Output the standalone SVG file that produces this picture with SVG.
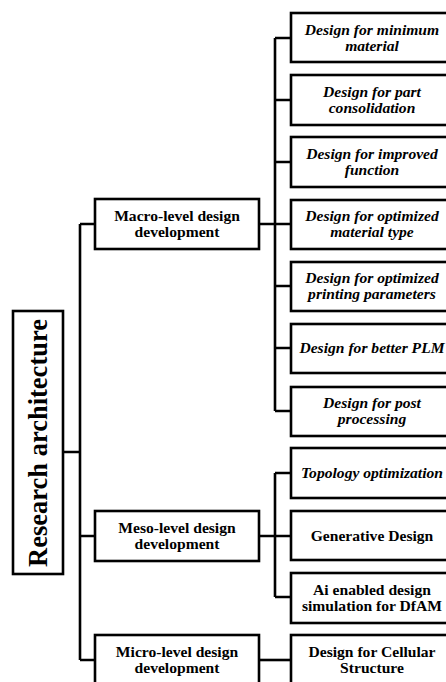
<svg xmlns="http://www.w3.org/2000/svg" width="446" height="682" viewBox="0 0 446 682">
<style>
rect{fill:#fff;stroke:#000;stroke-width:2.6}
.c{fill:none;stroke:#000;stroke-width:2.6}
text{font-family:"Liberation Serif","Times New Roman",serif;font-weight:bold;font-size:15.6px;text-anchor:middle;fill:#000}
.i{font-style:italic}
.r{font-size:26.5px}
</style>
<rect width="446" height="682" style="fill:#fff;stroke:none"/>
<g id="connectors">
<path class="c" d="M63,452 H80 M80,224 V660 M80,224 H95 M80,536 H95 M80,660 H95"/>
<path class="c" d="M259,224 H291 M275,38 V411 M275,38 H291 M275,100 H291 M275,162 H291 M275,286 H291 M275,348 H291 M275,411 H291"/>
<path class="c" d="M259,536 H291 M275,473 V597 M275,473 H291 M275,597 H291"/>
<path class="c" d="M259,660 H291"/>
</g>
<g id="root"><rect x="13" y="311" width="50" height="263"/><text class="r" transform="translate(47,443) rotate(-90)">Research architecture</text></g>
<g id="macro"><rect x="95" y="199" width="164" height="50"/><text x="177" y="221">Macro-level design</text><text x="177" y="237">development</text></g>
<g id="meso"><rect x="95" y="511" width="164" height="50"/><text x="177" y="533">Meso-level design</text><text x="177" y="549">development</text></g>
<g id="micro"><rect x="95" y="635" width="164" height="60"/><text x="177" y="657">Micro-level design</text><text x="177" y="673">development</text></g>
<g id="m1"><rect x="291" y="13" width="163" height="49"/><text class="i" x="372" y="35">Design for minimum</text><text class="i" x="372" y="51">material</text></g>
<g id="m2"><rect x="291" y="75" width="163" height="50"/><text class="i" x="372" y="97">Design for part</text><text class="i" x="372" y="113">consolidation</text></g>
<g id="m3"><rect x="291" y="137" width="163" height="50"/><text class="i" x="372" y="159">Design for improved</text><text class="i" x="372" y="175">function</text></g>
<g id="m4"><rect x="291" y="200" width="163" height="49"/><text class="i" x="372" y="221">Design for optimized</text><text class="i" x="372" y="237">material type</text></g>
<g id="m5"><rect x="291" y="262" width="163" height="49"/><text class="i" x="372" y="283">Design for optimized</text><text class="i" x="372" y="299">printing parameters</text></g>
<g id="m6"><rect x="291" y="324" width="163" height="49"/><text class="i" x="372" y="353">Design for better PLM</text></g>
<g id="m7"><rect x="291" y="387" width="163" height="49"/><text class="i" x="372" y="408">Design for post</text><text class="i" x="372" y="424">processing</text></g>
<g id="s1"><rect x="291" y="448" width="163" height="50"/><text class="i" x="372" y="478">Topology optimization</text></g>
<g id="s2"><rect x="291" y="511" width="163" height="49"/><text x="372" y="541">Generative Design</text></g>
<g id="s3"><rect x="291" y="573" width="163" height="50"/><text x="372" y="595">Ai enabled design</text><text x="372" y="611">simulation for DfAM</text></g>
<g id="c1"><rect x="291" y="635" width="163" height="60"/><text x="372" y="657">Design for Cellular</text><text x="372" y="673">Structure</text></g>
</svg>
